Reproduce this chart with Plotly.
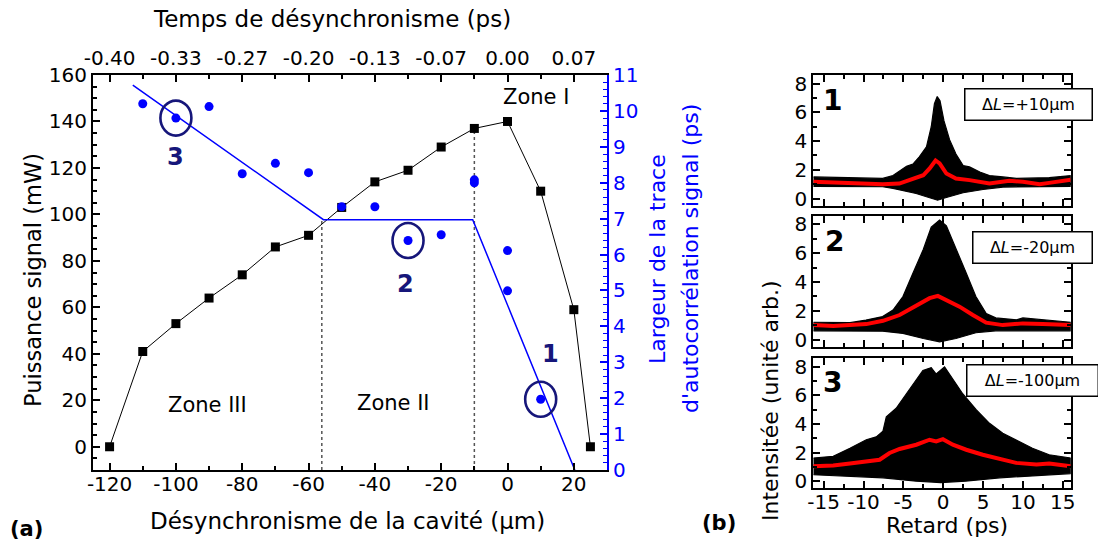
import plotly.graph_objects as go

W, H = 1098, 548
FONT = "DejaVu Sans"
BLUE = "#0000ff"
NAVY = "#16167a"
RED = "#ff0000"

# ---------------- (a) data ----------------
delay_um = [-120, -110, -100, -90, -80, -70, -60, -50, -40, -30, -20, -10, 0, 10, 20, 25]
power_mW = [0, 41, 53, 64, 74, 86, 91, 103, 114, 119, 129, 137, 140, 110, 59, 0]

width_delay_um = [-110, -100, -90, -80, -70, -60, -50, -40, -30, -20, -10, -10, 0, 0, 10]
width_ps = [10.2, 9.8, 10.12, 8.25, 8.54, 8.28, 7.33, 7.33, 6.39, 6.55, 8.08, 8.0, 6.11, 4.99, 1.97]

fit_delay_um = [-113, -55.5, -10.5, 20.3]
fit_width_ps = [10.72, 6.97, 6.97, 0.0]

zone_bounds_um = [-56, -10]
zone_bounds_top_mW = [98, 137]

zone_labels = ["Zone I", "Zone II", "Zone III"]
zone_label_x = [8.5, -34.3, -90.6]
zone_label_y = [150.7, 18.8, 18.0]

circled_labels = ["3", "2", "1"]
circled_index = [1, 8, 14]

bottom_tick_vals = [-120, -100, -80, -60, -40, -20, 0, 20]
bottom_tick_text = ["-120", "-100", "-80", "-60", "-40", "-20", "0", "20"]
top_tick_text = ["-0.40", "-0.33", "-0.27", "-0.20", "-0.13", "-0.07", "0.00", "0.07"]
left_tick_vals = [0, 20, 40, 60, 80, 100, 120, 140, 160]
right_tick_vals = [0, 1, 2, 3, 4, 5, 6, 7, 8, 9, 10, 11]

# ---------------- (b) data ----------------
p1_upper_t = [-16.3, -13.4, -10.5, -7.6, -6.3, -4.6, -3.8, -3.0, -2.1, -1.5, -1.1, -0.75, -0.4, 0.1, 0.8, 1.6, 2.5, 3.3, 4.6, 5.8, 7.5, 9.2, 13.3, 16.0]
p1_upper = [1.5, 1.45, 1.42, 1.4, 1.6, 2.25, 2.4, 2.9, 3.6, 5.0, 6.6, 7.1, 6.8, 5.4, 4.1, 3.1, 2.3, 2.2, 1.85, 1.6, 1.5, 1.4, 1.45, 1.6]
p1_lower_t = [-16.3, -7.6, -6.3, -3.4, -1.7, -0.7, 0.4, 2.5, 5.0, 7.5, 16.0]
p1_lower = [0.85, 0.82, 0.7, 0.35, 0.05, -0.12, 0.07, 0.4, 0.63, 0.8, 0.85]
p1_mean_t = [-16.3, -11.7, -7.6, -5.5, -4.2, -2.5, -1.7, -0.96, -0.45, 0.4, 1.6, 3.3, 5.8, 8.3, 10.0, 12.1, 13.3, 16.0]
p1_mean = [1.16, 1.04, 1.0, 1.04, 1.28, 1.62, 2.1, 2.65, 2.44, 1.74, 1.39, 1.28, 1.04, 1.23, 1.16, 1.0, 1.09, 1.3]

p2_upper_t = [-16.3, -11.7, -9.7, -7.6, -6.3, -5.05, -3.8, -2.5, -1.5, -0.45, 0.4, 1.6, 2.9, 4.1, 5.4, 6.6, 9.2, 10.0, 13.3, 16.0]
p2_upper = [1.2, 1.17, 1.35, 1.59, 2.05, 2.98, 4.6, 6.25, 7.8, 8.3, 7.9, 6.25, 4.6, 2.98, 1.8, 1.5, 1.37, 1.5, 1.35, 1.2]
p2_lower_t = [-16.3, -7.6, -5.05, -2.5, -0.45, 1.6, 4.1, 6.6, 16.0]
p2_lower = [0.6, 0.58, 0.42, 0.07, -0.16, 0.07, 0.47, 0.6, 0.6]
p2_mean_t = [-16.3, -13.8, -9.65, -7.56, -5.47, -3.38, -1.71, -0.67, 0.38, 2.05, 3.72, 5.39, 7.48, 9.99, 12.5, 16.0]
p2_mean = [1.0, 0.93, 1.07, 1.3, 1.7, 2.33, 2.87, 3.03, 2.75, 2.28, 1.7, 1.17, 1.0, 1.12, 1.07, 1.0]

p3_upper_t = [-16.3, -13.8, -11.7, -9.65, -8.4, -7.56, -7.14, -5.9, -4.64, -3.38, -2.55, -1.5, -0.88, 0.17, 1.21, 2.47, 4.14, 5.81, 7.48, 9.15, 11.2, 13.3, 16.0]
p3_upper = [1.62, 1.74, 2.3, 2.9, 3.1, 3.5, 4.5, 5.1, 6.1, 7.1, 7.75, 7.95, 7.5, 8.0, 7.1, 6.1, 5.0, 4.05, 3.35, 2.9, 2.3, 1.85, 1.62]
p3_lower_t = [-16.3, -7.56, -3.38, -0.3, 2.8, 7.1, 16.0]
p3_lower = [0.45, 0.23, 0.0, -0.1, 0.0, 0.23, 0.53]
p3_mean_t = [-16.3, -13.8, -11.7, -9.65, -7.98, -6.73, -5.47, -3.38, -1.71, -0.88, -0.04, 1.21, 2.89, 4.97, 7.06, 9.15, 11.7, 13.3, 16.0]
p3_mean = [1.04, 1.1, 1.23, 1.39, 1.5, 1.97, 2.25, 2.55, 2.9, 2.78, 2.94, 2.55, 2.2, 1.85, 1.55, 1.28, 1.16, 1.23, 1.04]

panel_numbers = ["1", "2", "3"]
panel_dl_text = ["Δ<i>L</i>=+10µm", "Δ<i>L</i>=-20µm", "Δ<i>L</i>=-100µm"]
panel_tick_vals = [-15, -10, -5, 0, 5, 10, 15]
panel_tick_text = ["-15", "-10", "-5", "0", "5", "10", "15"]
panel_ytick_vals = [0, 2, 4, 6, 8]


def px(x):
    return x / W


def py(y):
    return 1 - y / H


fig = go.Figure()

# ---- (a) traces
for xb, yt in zip(zone_bounds_um, zone_bounds_top_mW):
    fig.add_trace(go.Scatter(x=[xb, xb], y=[-10, yt], mode="lines",
                             line=dict(color="#555555", width=1.5, dash="3px,3px"),
                             xaxis="x", yaxis="y", showlegend=False, hoverinfo="skip"))

fig.add_trace(go.Scatter(x=delay_um, y=power_mW, mode="lines+markers",
                         line=dict(color="black", width=1),
                         marker=dict(symbol="square", size=9, color="black"),
                         xaxis="x", yaxis="y", showlegend=False))

fig.add_trace(go.Scatter(x=fit_delay_um, y=fit_width_ps, mode="lines",
                         line=dict(color=BLUE, width=1.5),
                         xaxis="x", yaxis="y2", showlegend=False))

fig.add_trace(go.Scatter(x=width_delay_um, y=width_ps, mode="markers",
                         marker=dict(symbol="circle", size=9, color=BLUE),
                         xaxis="x", yaxis="y2", showlegend=False))

# invisible trace on the top axis to keep it active
fig.add_trace(go.Scatter(x=[delay_um[0]], y=[power_mW[0]], mode="markers",
                         marker=dict(opacity=0), xaxis="x2", yaxis="y",
                         showlegend=False, hoverinfo="skip"))

shapes = []
annotations = []
for lab, idx in zip(circled_labels, circled_index):
    cx, cy = width_delay_um[idx], width_ps[idx]
    shapes.append(dict(type="circle", xref="x", yref="y2",
                       xsizemode="pixel", ysizemode="pixel",
                       xanchor=cx, yanchor=cy, x0=-15.5, x1=15.5, y0=-17.5, y1=17.5,
                       line=dict(color=NAVY, width=2.6)))
label_shift = {"3": (0, -39), "2": (-3, -43), "1": (10, 45)}
for lab, idx in zip(circled_labels, circled_index):
    dx, dy = label_shift[lab]
    annotations.append(dict(x=width_delay_um[idx], y=width_ps[idx], xref="x", yref="y2",
                            text="<b>%s</b>" % lab, showarrow=False, xshift=dx, yshift=dy,
                            font=dict(family=FONT, size=24, color=NAVY)))

for t, zx, zy in zip(zone_labels, zone_label_x, zone_label_y):
    annotations.append(dict(x=zx, y=zy, xref="x", yref="y", text=t, showarrow=False,
                            font=dict(family=FONT, size=21, color="black")))

# ---- (b) traces
panels = [
    (p1_upper_t, p1_upper, p1_lower_t, p1_lower, p1_mean_t, p1_mean),
    (p2_upper_t, p2_upper, p2_lower_t, p2_lower, p2_mean_t, p2_mean),
    (p3_upper_t, p3_upper, p3_lower_t, p3_lower, p3_mean_t, p3_mean),
]
for i, (ut, uv, lt, lv, mt, mv) in enumerate(panels):
    xa, ya = "x%d" % (i + 3), "y%d" % (i + 3)
    fig.add_trace(go.Scatter(x=ut + lt[::-1], y=uv + lv[::-1], mode="lines", fill="toself",
                             fillcolor="black", line=dict(color="black", width=1.2),
                             xaxis=xa, yaxis=ya, showlegend=False, hoverinfo="skip"))
    fig.add_trace(go.Scatter(x=mt, y=mv, mode="lines", line=dict(color=RED, width=4),
                             xaxis=xa, yaxis=ya, showlegend=False))

# ---- axes
tickfont = dict(family=FONT, size=20, color="black")
common = dict(showgrid=False, zeroline=False, showline=True, linecolor="black",
              linewidth=2, ticks="inside", ticklen=7, tickwidth=1.5, tickcolor="black",
              tickfont=tickfont, automargin=False)

main_x = [px(93), px(607)]
main_y = [py(470), py(75)]
panel_x = [px(813.3), px(1070.7)]
panel_y = [[py(205.7), py(75)], [py(346.7), py(215.7)], [py(488.3), py(358.3)]]

layout = dict(
    template="none",
    width=W, height=H, autosize=False,
    margin=dict(l=0, r=0, t=0, b=0, pad=0),
    paper_bgcolor="white", plot_bgcolor="white",
    showlegend=False,
    xaxis=dict(common, domain=main_x, range=[-125, 30], anchor="y", ticklabelstandoff=-5,
               tickmode="array", tickvals=bottom_tick_vals, ticktext=bottom_tick_text,
               minor=dict(ticks="inside", ticklen=4, tickwidth=1.5, tickcolor="black",
                          tickmode="linear", tick0=-120, dtick=10)),
    xaxis2=dict(common, overlaying="x", side="top", anchor="y", range=[-125, 30],
                tickmode="array", tickvals=bottom_tick_vals, ticktext=top_tick_text,
                minor=dict(ticks="inside", ticklen=4, tickwidth=1.5, tickcolor="black",
                           tickmode="linear", tick0=-120, dtick=10)),
    yaxis=dict(common, domain=main_y, range=[-10, 160], anchor="x",
               tickmode="array", tickvals=left_tick_vals,
               minor=dict(ticks="inside", ticklen=4, tickwidth=1.5, tickcolor="black",
                          tickmode="linear", tick0=0, dtick=5)),
    yaxis2=dict(common, overlaying="y", side="right", anchor="x", range=[0, 11],
                linecolor=BLUE, tickcolor=BLUE,
                tickfont=dict(family=FONT, size=20, color=BLUE),
                tickmode="array", tickvals=right_tick_vals,
                minor=dict(ticks="inside", ticklen=4, tickwidth=1.2, tickcolor=BLUE,
                           tickmode="linear", tick0=0, dtick=0.2)),
)
for i in range(3):
    n = i + 3
    layout["xaxis%d" % n] = dict(common, domain=panel_x, range=[-16.3, 16.0], anchor="y%d" % n,
                                 mirror="ticks", tickmode="array", tickvals=panel_tick_vals,
                                 ticktext=panel_tick_text, showticklabels=(i == 2),
                                 ticklabelstandoff=-5,
                                 minor=dict(ticks="inside", ticklen=4, tickwidth=1.5,
                                            tickcolor="black", tickmode="linear",
                                            tick0=0, dtick=2.5))
    layout["yaxis%d" % n] = dict(common, domain=panel_y[i], range=[-0.5, 8.6], anchor="x%d" % n,
                                 mirror="ticks", tickmode="array", tickvals=panel_ytick_vals,
                                 minor=dict(ticks="inside", ticklen=4, tickwidth=1.5,
                                            tickcolor="black", tickmode="linear",
                                            tick0=0, dtick=1))

# ---- titles and labels (paper coords)
def ptext(x, y, text, size, color="black", angle=0, bold=False):
    annotations.append(dict(x=px(x), y=py(y), xref="paper", yref="paper",
                            text=("<b>%s</b>" % text) if bold else text, showarrow=False,
                            textangle=angle, xanchor="center", yanchor="middle",
                            font=dict(family=FONT, size=size, color=color)))

ptext(332, 19, "Temps de désynchronisme (ps)", 23)
ptext(347, 521, "Désynchronisme de la cavité (µm)", 23)
ptext(33, 280, "Puissance signal (mW)", 22.5, angle=-90)
ptext(657, 259, "Largeur de la trace", 22, color=BLUE, angle=-90)
ptext(690, 259, "d'autocorrélation signal (ps)", 22, color=BLUE, angle=-90)
ptext(26, 529, "(a)", 21, bold=True)
ptext(719, 523, "(b)", 21, bold=True)
ptext(770, 401, "Intensitée (unité arb.)", 22, angle=-90)
ptext(947, 525, "Retard (ps)", 22)

num_pos = [(832, 101), (834, 241), (832, 382)]
box_pos = [(1028, 105), (1032, 247), (1032, 380)]
box_w = [122, 114, 126]
for i in range(3):
    ptext(num_pos[i][0], num_pos[i][1], panel_numbers[i], 28, bold=True)
    annotations.append(dict(x=px(box_pos[i][0]), y=py(box_pos[i][1]), xref="paper", yref="paper",
                            text=panel_dl_text[i], showarrow=False, xanchor="center",
                            yanchor="middle", width=box_w[i], height=26, borderpad=2,
                            bordercolor="black", borderwidth=1.5, bgcolor="white",
                            font=dict(family=FONT, size=16, color="black")))

layout["shapes"] = shapes
layout["annotations"] = annotations
fig.update_layout(**layout)

fig.write_html("out.html", config={"displayModeBar": False},
               post_script="document.body.style.margin='0';")
